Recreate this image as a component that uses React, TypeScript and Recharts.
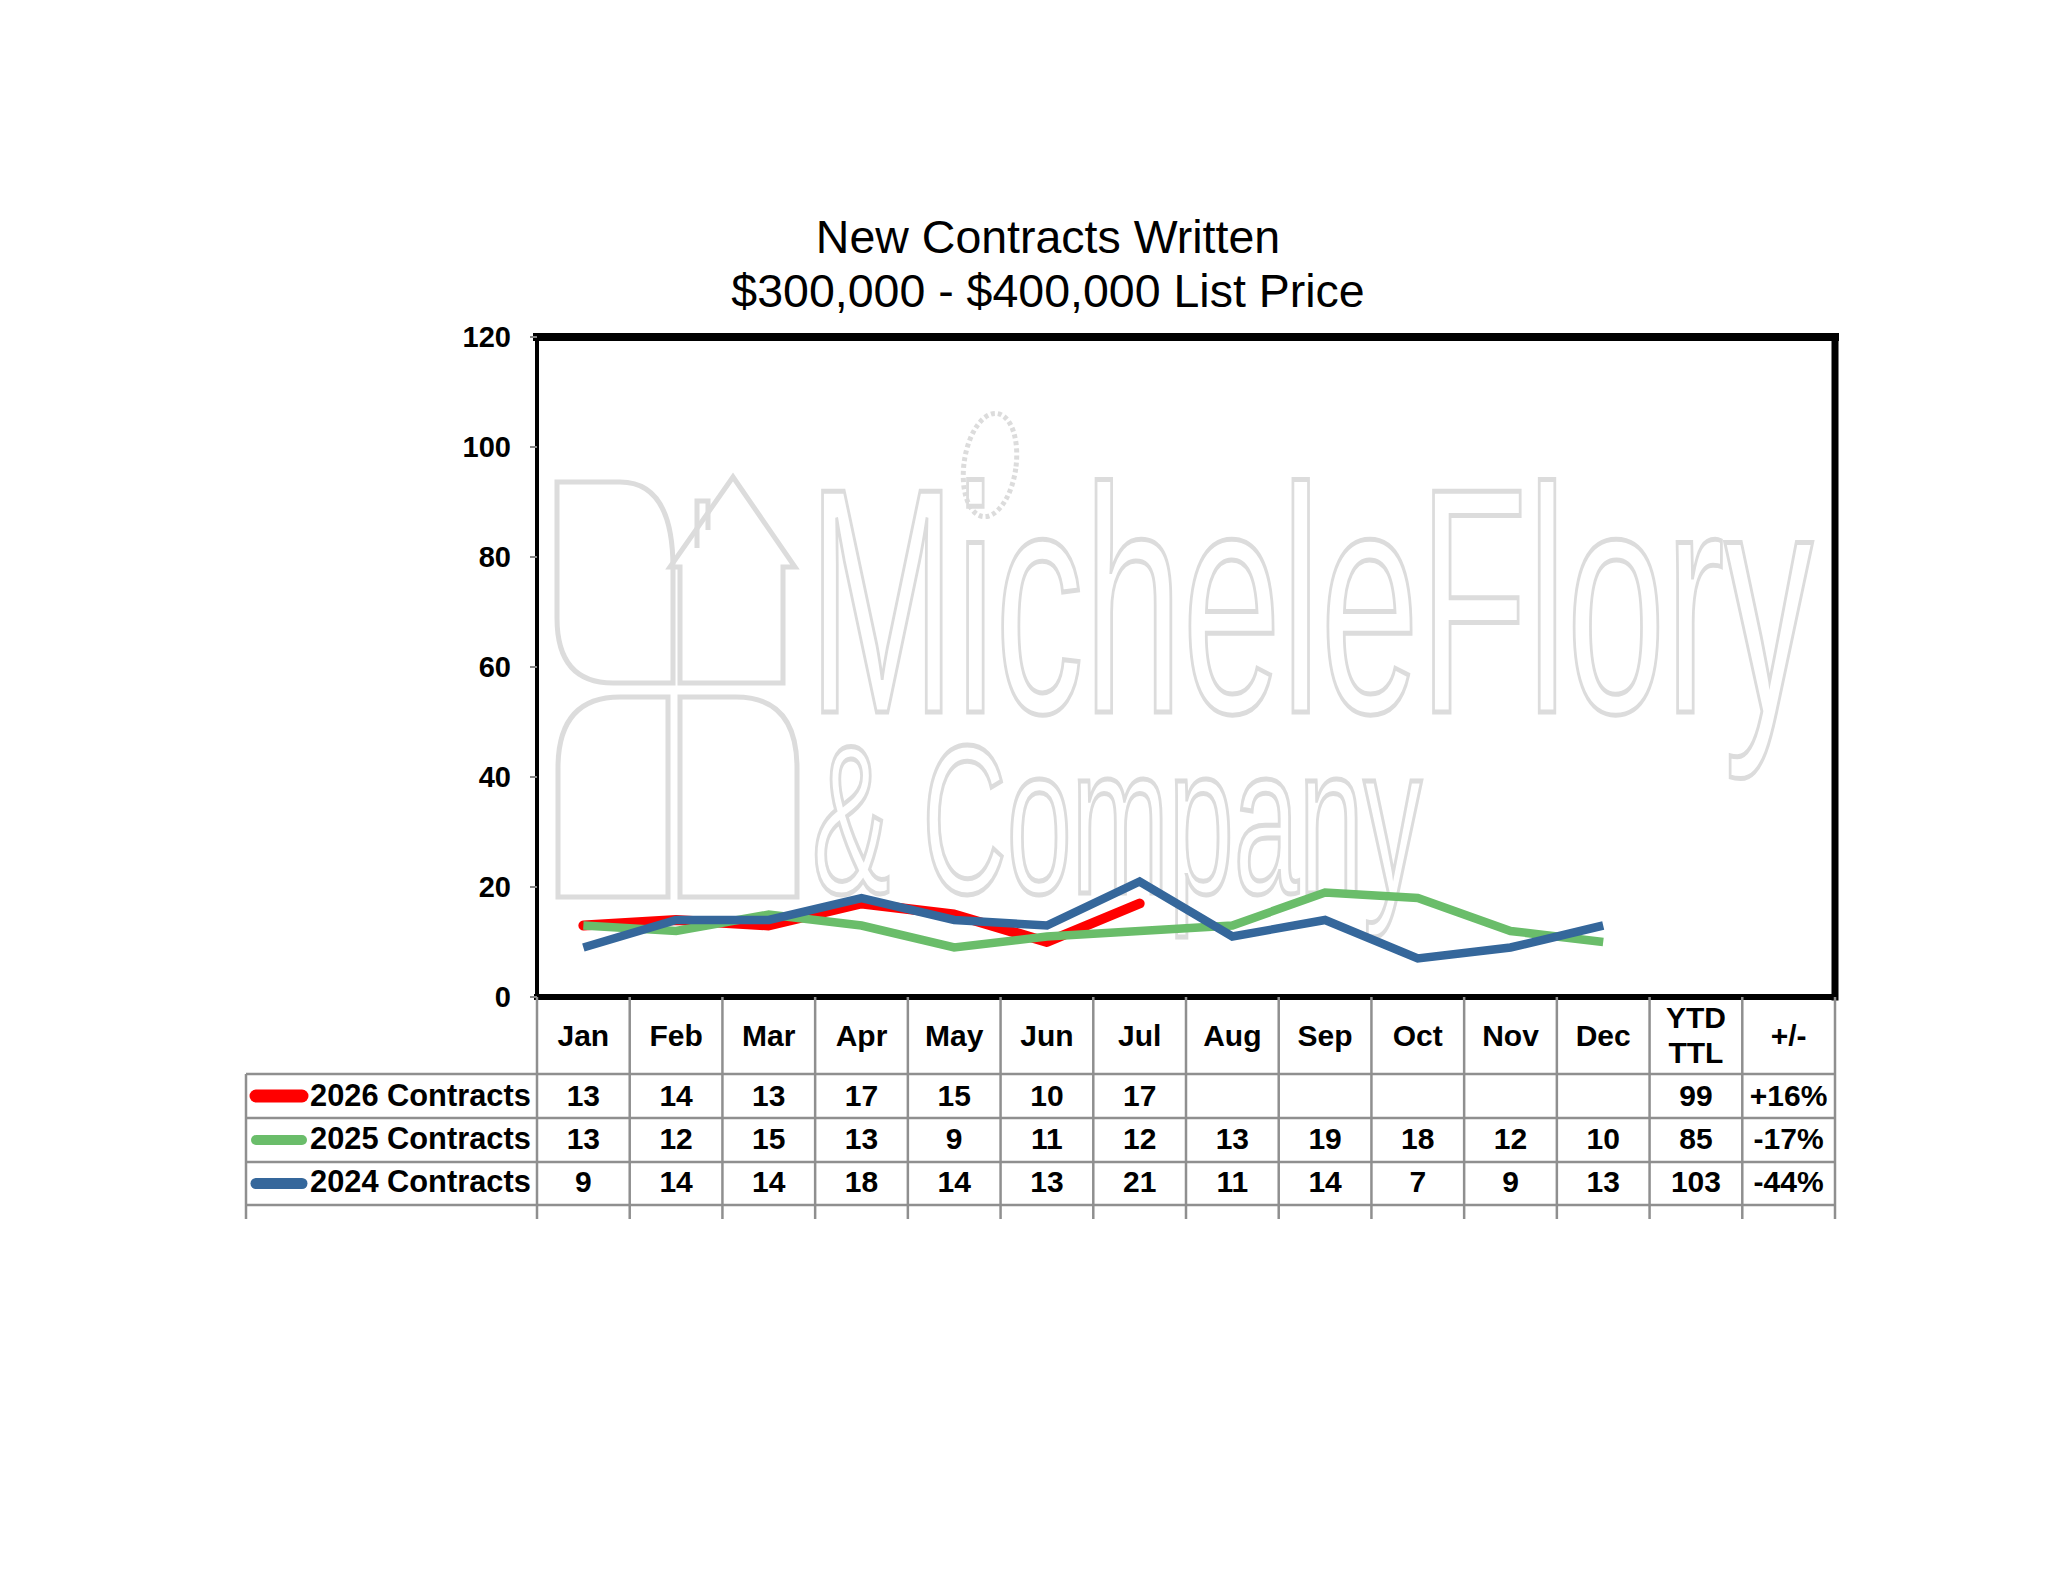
import React from 'react';
import { LineChart, Line, XAxis, YAxis, CartesianGrid, ReferenceLine } from 'recharts';

// ---------- data ----------
const months = ['Jan', 'Feb', 'Mar', 'Apr', 'May', 'Jun', 'Jul', 'Aug', 'Sep', 'Oct', 'Nov', 'Dec'];
const summaryHeaders = ['YTD TTL', '+/-'];
const seriesNames = ['2026 Contracts', '2025 Contracts', '2024 Contracts'];
const contracts2026: (number | null)[] = [13, 14, 13, 17, 15, 10, 17, null, null, null, null, null];
const contracts2025: (number | null)[] = [13, 12, 15, 13, 9, 11, 12, 13, 19, 18, 12, 10];
const contracts2024: (number | null)[] = [9, 14, 14, 18, 14, 13, 21, 11, 14, 7, 9, 13];
const ytdTotals = [99, 85, 103];
const changes = ['+16%', '-17%', '-44%'];
const yTicks = [0, 20, 40, 60, 80, 100, 120];
const titleLines = ['New Contracts Written', '$300,000 - $400,000 List Price'];

// ---------- styles / layout ----------
const FONT = '"Liberation Sans", Arial, Helvetica, sans-serif';
const COLORS = ['#FF0000', '#6ABD6A', '#35679B'];
const LINE_WIDTHS = [10, 8.5, 8.5];
const LEGEND_WIDTHS = [13, 10, 11];
const W = 2032;
const H = 1567;
const PLOT_LEFT = 529;
const PLOT_RIGHT = 1827;
const PLOT_TOP = 329;
const PLOT_BOTTOM = 989;
const Y_AXIS_W = 60;
const X_AXIS_H = 250;
const TABLE_LEFT = 238;
const ROW_LINES = [1066, 1110, 1154, 1197];
const TABLE_EXT = 1205;
const HEADER_BASE = 1038;
const HEADER_2LINE = [1020, 1055];
const ROW_BASES = [1098, 1141, 1184];
const TABLE_GRAY = '#8f8f8f';

const columns = [...months, ...summaryHeaders];
const seriesRows = [contracts2026, contracts2025, contracts2024];
const COL_W = (PLOT_RIGHT - PLOT_LEFT) / columns.length;

const data = columns.map((label, i) => ({
  label,
  s2026: i < months.length ? contracts2026[i] : null,
  s2025: i < months.length ? contracts2025[i] : null,
  s2024: i < months.length ? contracts2024[i] : null,
}));

const cellText = (row: number, col: number): string => {
  if (col < months.length) {
    const v = seriesRows[row][col];
    return v === null || v === undefined ? '' : String(v);
  }
  if (col === months.length) return String(ytdTotals[row]);
  return changes[row];
};

const textStyle = { fontFamily: FONT, fontWeight: 'bold' as const, fontSize: 30, fill: '#000' };

function TableTick(props: any) {
  const { x, payload } = props;
  const idx: number = typeof props.index === 'number' ? props.index : columns.indexOf(String(payload.value));
  const label = String(payload.value);
  const left = x - COL_W / 2;
  const right = x + COL_W / 2;
  const parts = label.split(' ');
  const els: React.ReactNode[] = [];
  els.push(<line key="vl" x1={left} x2={left} y1={PLOT_BOTTOM} y2={TABLE_EXT + 6} stroke={TABLE_GRAY} strokeWidth={2.5} />);
  if (idx === columns.length - 1) {
    els.push(<line key="vr" x1={right} x2={right} y1={PLOT_BOTTOM} y2={TABLE_EXT + 6} stroke={TABLE_GRAY} strokeWidth={2.5} />);
  }
  if (parts.length === 1) {
    els.push(<text key="h" x={x} y={HEADER_BASE} textAnchor="middle" {...textStyle}>{label}</text>);
  } else {
    parts.forEach((p, k) => {
      els.push(<text key={'h' + k} x={x} y={HEADER_2LINE[k]} textAnchor="middle" {...textStyle}>{p}</text>);
    });
  }
  seriesRows.forEach((_, r) => {
    els.push(<text key={'c' + r} x={x} y={ROW_BASES[r]} textAnchor="middle" {...textStyle}>{cellText(r, idx)}</text>);
  });
  if (idx === 0) {
    ROW_LINES.forEach((yy, k) => {
      els.push(<line key={'hl' + k} x1={TABLE_LEFT} x2={PLOT_RIGHT} y1={yy} y2={yy} stroke={TABLE_GRAY} strokeWidth={2.5} />);
    });
    els.push(<line key="tl" x1={TABLE_LEFT} x2={TABLE_LEFT} y1={ROW_LINES[0]} y2={TABLE_EXT + 6} stroke={TABLE_GRAY} strokeWidth={2.5} />);
    seriesNames.forEach((name, r) => {
      const cy = (ROW_LINES[r] + ROW_LINES[r + 1]) / 2;
      els.push(<line key={'lg' + r} x1={248} x2={294} y1={cy} y2={cy} stroke={COLORS[r]} strokeWidth={LEGEND_WIDTHS[r]} strokeLinecap="round" />);
      els.push(<text key={'ln' + r} x={302} y={ROW_BASES[r]} textAnchor="start" {...textStyle} fontSize={30.8}>{name}</text>);
    });
  }
  return <g>{els}</g>;
}

function Watermark() {
  const wm = { fill: 'none', stroke: '#dcdcdc', strokeWidth: 5 };
  return (
    <svg width={W} height={H} style={{ position: 'absolute', left: 0, top: 0 }}>
      <g {...wm}>
        <path d="M549,474 H612 Q665,474 665,560 V675 H605 Q549,675 549,610 Z" />
        <path d="M672,675 V559 L662,559 L725,469 L787,559 L775,559 V675 Z" />
        <path d="M689,540 V493 H700 V522" />
        <path d="M550,889 V760 Q550,689 612,689 H660 V889 Z" />
        <path d="M672,889 V689 H728 Q789,689 789,760 V889 Z" />
        <ellipse cx={982} cy={457} rx={26} ry={52} strokeDasharray="4 3" transform="rotate(8 982 457)" />
      </g>
      <text x={800} y={704} fontFamily={FONT} fontSize={321} textLength={1005} lengthAdjust="spacingAndGlyphs" {...wm}>MicheleFlory</text>
      <text x={804} y={885} fontFamily={FONT} fontSize={211} textLength={610} lengthAdjust="spacingAndGlyphs" {...wm}>&amp; Company</text>
      {titleLines.map((t, i) => (
        <text key={i} x={1040} y={245 + i * 54} textAnchor="middle" fontFamily={FONT} fontSize={46.5} fill="#000">{t}</text>
      ))}
    </svg>
  );
}

export default function App() {
  return (
    <div style={{ position: 'relative', width: W, height: H, background: '#fff' }}>
      <Watermark />
      <div style={{ position: 'absolute', left: 0, top: 0 }}>
        <LineChart
          width={W}
          height={H}
          data={data}
          margin={{ top: PLOT_TOP, right: W - PLOT_RIGHT - 1, bottom: H - PLOT_BOTTOM - X_AXIS_H, left: PLOT_LEFT - Y_AXIS_W }}
        >
          <CartesianGrid horizontal vertical={false} stroke="#000" strokeWidth={3} strokeOpacity={1} />
          <XAxis
            dataKey="label"
            type="category"
            scale="band"
            interval={0}
            height={X_AXIS_H}
            axisLine={false}
            tickLine={false}
            tick={<TableTick />}
          />
          <YAxis
            yAxisId="left"
            domain={[0, 120]}
            ticks={yTicks}
            interval={0}
            width={Y_AXIS_W}
            axisLine={{ stroke: '#000', strokeWidth: 4 }}
            tickLine={{ stroke: '#888', strokeWidth: 2 }}
            tickSize={7}
            tickMargin={19}
            tick={{ fill: '#000', fontSize: 29, fontWeight: 'bold', fontFamily: FONT }}
          />
          <YAxis
            yAxisId="right"
            orientation="right"
            domain={[0, 120]}
            width={1}
            tick={false}
            tickLine={false}
            axisLine={{ stroke: '#000', strokeWidth: 7, strokeLinecap: 'square' }}
          />
          <ReferenceLine yAxisId="left" y={120} stroke="#000" strokeWidth={8} strokeLinecap="square" />
          <ReferenceLine yAxisId="left" y={0} stroke="#000" strokeWidth={6} strokeLinecap="square" />
          <Line yAxisId="left" type="linear" dataKey="s2026" name={seriesNames[0]} stroke={COLORS[0]} strokeWidth={LINE_WIDTHS[0]} strokeLinecap="round" strokeLinejoin="round" dot={false} activeDot={false} isAnimationActive={false} />
          <Line yAxisId="left" type="linear" dataKey="s2025" name={seriesNames[1]} stroke={COLORS[1]} strokeWidth={LINE_WIDTHS[1]} dot={false} activeDot={false} isAnimationActive={false} />
          <Line yAxisId="left" type="linear" dataKey="s2024" name={seriesNames[2]} stroke={COLORS[2]} strokeWidth={LINE_WIDTHS[2]} dot={false} activeDot={false} isAnimationActive={false} />
        </LineChart>
      </div>
    </div>
  );
}
